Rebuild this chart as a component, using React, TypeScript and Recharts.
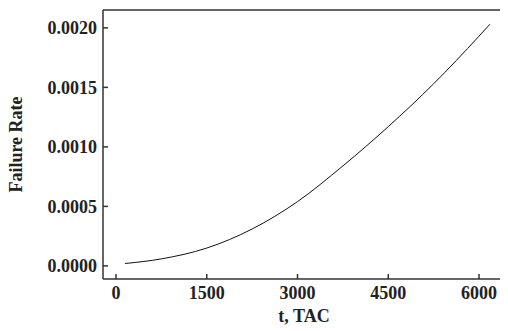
import { LineChart, Line, XAxis, YAxis, ReferenceLine } from "recharts";

const tValues = [150, 750, 1500, 2250, 3000, 3750, 4500, 5250, 6000, 6180];
const failureRate = [
  0.00002, 0.000059, 0.00015, 0.00031, 0.00054, 0.00084, 0.00117, 0.00153, 0.00193, 0.00203,
];
const xTicks = [0, 1500, 3000, 4500, 6000];
const yTicks = [0, 0.0005, 0.001, 0.0015, 0.002];
const xDomain = [-215, 6430];
const yDomain = [-0.00011, 0.00215];

const data = tValues.map((t, i) => ({ t, rate: failureRate[i] }));

const FONT = '"Liberation Serif", "Times New Roman", serif';
const AXIS = "#333";
const tickStyle = { fontFamily: FONT, fontSize: 18, fontWeight: 700, fill: "#222" };

export default function App() {
  return (
    <LineChart
      width={500}
      height={323}
      data={data}
      margin={{ top: 2, right: 3, left: 0, bottom: 0 }}
    >
      <XAxis
        dataKey="t"
        type="number"
        domain={xDomain}
        ticks={xTicks}
        allowDataOverflow
        height={52}
        tickSize={-5}
        tickMargin={12}
        tick={tickStyle}
        stroke={AXIS}
        strokeWidth={1.5}
        label={{
          value: "t, TAC",
          position: "insideBottom",
          offset: 9,
          style: { fontFamily: FONT, fontSize: 18, fontWeight: 700, fill: "#222" },
        }}
      />
      <YAxis
        type="number"
        domain={yDomain}
        ticks={yTicks}
        allowDataOverflow
        width={95}
        tickSize={-5}
        tickMargin={11}
        tick={tickStyle}
        tickFormatter={(v: number) => v.toFixed(4)}
        stroke={AXIS}
        strokeWidth={1.5}
        label={{
          value: "Failure Rate",
          angle: -90,
          position: "insideLeft",
          offset: 8,
          style: { textAnchor: "middle", fontFamily: FONT, fontSize: 18, fontWeight: 700, fill: "#222" },
        }}
      />
      <ReferenceLine y={yDomain[1]} stroke={AXIS} strokeWidth={1.5} />
      <ReferenceLine x={xDomain[1]} stroke={AXIS} strokeWidth={1.5} />
      <Line
        dataKey="rate"
        type="monotone"
        stroke="#111"
        strokeWidth={1}
        dot={false}
        isAnimationActive={false}
      />
    </LineChart>
  );
}
